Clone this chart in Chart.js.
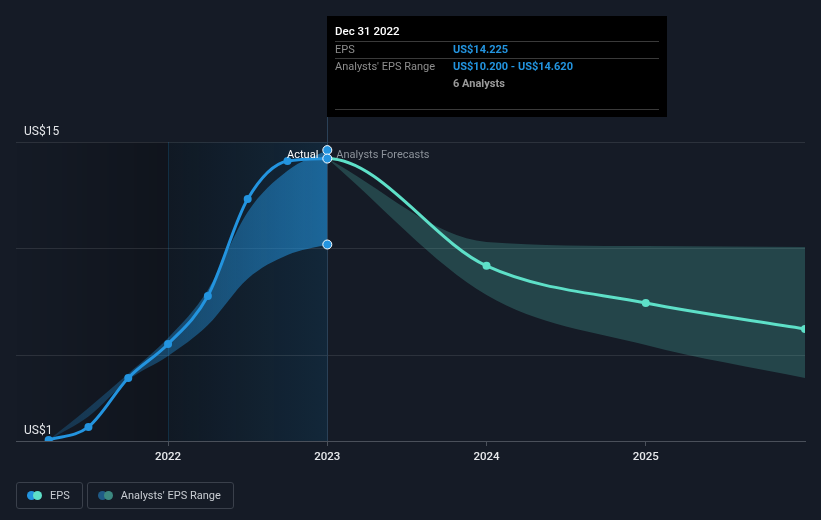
<!DOCTYPE html>
<html>
<head>
<meta charset="utf-8">
<script src="https://cdn.jsdelivr.net/npm/chart.js@4.4.0/dist/chart.umd.min.js"></script>
<style>
  html, body { margin: 0; padding: 0; background: #151b26; }
  body { width: 821px; height: 520px; position: relative; overflow: hidden; font-family: Roboto, sans-serif; }
  #eps { position: absolute; left: 0; top: 0; }
  .legend { position: absolute; left: 16px; top: 482px; display: flex; gap: 4px; }
  .item { box-sizing: border-box; height: 27px; border: 1px solid #3a404b; border-radius: 3px;
          display: flex; align-items: center; padding: 0 12px 0 10px; color: #c9cdd3; font-size: 11px; }
  .dots { position: relative; width: 15px; height: 9px; margin-right: 8px; }
  .dots span { position: absolute; top: 0; width: 9px; height: 9px; border-radius: 50%; }
</style>
</head>
<body>
<canvas id="eps" width="821" height="520"></canvas>
<div class="legend">
  <div class="item"><div class="dots"><span style="left:0;background:#2394df"></span><span style="left:6px;background:#5ee0c8"></span></div>EPS</div>
  <div class="item"><div class="dots"><span style="left:0;background:#1f5a86"></span><span style="left:6px;background:#3c8880"></span></div>Analysts' EPS Range</div>
</div>
<script>
// actual quarters (fractional years, Dec 31 2022 -> 2023)
const actualDates = [2021.25, 2021.5, 2021.75, 2022, 2022.25, 2022.5, 2022.75, 2023];
const epsActual = [1.05, 1.66, 3.95, 5.54, 7.79, 12.33, 14.11, 14.225];
const pastHigh = [1.05, 2.55, 4.15, 5.82, 8.07, 11.72, 13.65, 14.62];
const pastLow = [1.05, 2.15, 3.86, 4.98, 6.43, 8.6, 9.71, 10.2];

// forecast (first entry only carries the curve on from the last quarter)
const forecastDates = [2022.75, 2023, 2024, 2025, 2026];
const epsForecast = [14.11, 14.225, 9.2, 7.46, 6.25];
const rangeDates = [2023, 2024, 2025, 2026];
const forecastHigh = [14.225, 10.32, 10.13, 10.08];
const forecastLow = [14.225, 7.84, 5.5, 3.95];

const xTicks = [2022, 2023, 2024, 2025];
const yGrid = [5, 10, 15];
const yLabels = [15, 1];
const analystCount = 6;
const tipTitle = 'Dec 31 2022';

const blue = '#2394df';
const teal = '#5ee0c8';
const font = 'Roboto, sans-serif';

const pts = (xs, ys) => xs.map((x, i) => ({ x: x, y: ys[i] }));
const lastIdx = actualDates.length - 1;

function bandFill(ctx) {
  const area = ctx.chart.chartArea;
  if (!area) return 'rgba(35,148,223,0.4)';
  const xs = ctx.chart.scales.x;
  const g = ctx.chart.ctx.createLinearGradient(xs.getPixelForValue(actualDates[0]), 0, xs.getPixelForValue(actualDates[lastIdx]), 0);
  g.addColorStop(0, 'rgba(35,148,223,0.22)');
  g.addColorStop(1, 'rgba(35,148,223,0.58)');
  return g;
}

const backdrop = {
  id: 'backdrop',
  beforeDraw(chart) {
    const { ctx, chartArea: a, scales: { x } } = chart;
    const x22 = x.getPixelForValue(xTicks[0]);
    const xNow = x.getPixelForValue(actualDates[lastIdx]);
    ctx.save();
    let g = ctx.createLinearGradient(a.left, 0, x22, 0);
    g.addColorStop(0, 'rgba(0,0,0,0)');
    g.addColorStop(1, 'rgba(0,0,0,0.24)');
    ctx.fillStyle = g;
    ctx.fillRect(a.left, a.top, x22 - a.left, a.bottom - a.top);
    ctx.fillStyle = 'rgba(0,0,0,0.25)';
    ctx.fillRect(x22, a.top, xNow - x22, a.bottom - a.top);
    g = ctx.createLinearGradient(x22, 0, xNow, 0);
    g.addColorStop(0, 'rgba(35,148,223,0.04)');
    g.addColorStop(1, 'rgba(35,148,223,0.15)');
    ctx.fillStyle = g;
    ctx.fillRect(x22, a.top, xNow - x22, a.bottom - a.top);
    ctx.restore();
  },
  beforeDatasetsDraw(chart) {
    const { ctx, chartArea: a, scales: { x } } = chart;
    const x22 = Math.round(x.getPixelForValue(xTicks[0])) + 0.5;
    const xNow = Math.round(x.getPixelForValue(actualDates[lastIdx])) + 0.5;
    ctx.save();
    ctx.lineWidth = 1;
    ctx.strokeStyle = 'rgba(35,148,223,0.18)';
    ctx.beginPath(); ctx.moveTo(x22, a.top); ctx.lineTo(x22, a.bottom); ctx.stroke();
    ctx.strokeStyle = '#2b4157';
    ctx.beginPath(); ctx.moveTo(xNow, 117); ctx.lineTo(xNow, a.bottom); ctx.stroke();
    ctx.restore();
  },
  afterDatasetsDraw(chart) {
    const { ctx, chartArea: a, scales: { x, y } } = chart;
    const xNow = x.getPixelForValue(actualDates[lastIdx]);
    ctx.save();
    ctx.font = '11px ' + font;
    ctx.textBaseline = 'middle';
    ctx.textAlign = 'right';
    ctx.fillStyle = '#ffffff';
    ctx.fillText('Actual', xNow - 9, 155);
    ctx.textAlign = 'left';
    ctx.fillStyle = '#8c929a';
    ctx.fillText('Analysts Forecasts', xNow + 9, 155);
    ctx.font = '12px ' + font;
    ctx.fillStyle = '#e4e6e9';
    ctx.textBaseline = 'alphabetic';
    yLabels.forEach(v => ctx.fillText('US$' + v, a.left + 8, y.getPixelForValue(v) - 7));
    ctx.restore();
  },
  afterDraw(chart) {
    const { ctx, scales: { x } } = chart;
    const left = Math.round(x.getPixelForValue(actualDates[lastIdx]));
    const top = 16, w = 340, h = 101;
    ctx.save();
    ctx.fillStyle = '#000';
    ctx.fillRect(left, top, w, h);
    ctx.strokeStyle = '#3a3a3a';
    ctx.lineWidth = 1;
    [41.5, 58.5, 109.5].forEach(ly => {
      ctx.beginPath(); ctx.moveTo(left + 8, ly); ctx.lineTo(left + w - 8, ly); ctx.stroke();
    });
    ctx.textBaseline = 'middle';
    ctx.textAlign = 'left';
    ctx.font = '500 11.5px ' + font;
    ctx.fillStyle = '#ffffff';
    ctx.fillText(tipTitle, left + 8, 32);
    ctx.font = '11px ' + font;
    ctx.fillStyle = '#8e8e8e';
    ctx.fillText('EPS', left + 8, 50);
    ctx.fillText("Analysts' EPS Range", left + 8, 67);
    const vx = left + 126;
    ctx.font = 'bold 11px ' + font;
    ctx.fillStyle = blue;
    ctx.fillText('US$' + epsActual[lastIdx].toFixed(3), vx, 50);
    ctx.fillText('US$' + pastLow[lastIdx].toFixed(3) + ' - US$' + pastHigh[lastIdx].toFixed(3), vx, 67);
    ctx.fillStyle = '#9a9a9a';
    ctx.fillText(analystCount + ' Analysts', vx, 84);
    ctx.restore();
  }
};

const hoverRadius = (n, r) => (c) => c.dataIndex === n ? r : 0;

new Chart(document.getElementById('eps'), {
  type: 'line',
  data: {
    datasets: [
      {
        label: 'EPS',
        data: pts(actualDates, epsActual),
        borderColor: blue,
        borderWidth: 3,
        cubicInterpolationMode: 'monotone',
        pointRadius: c => c.dataIndex === lastIdx ? 4.5 : 4,
        pointBackgroundColor: blue,
        pointBorderColor: c => c.dataIndex === lastIdx ? '#fff' : blue,
        pointBorderWidth: c => c.dataIndex === lastIdx ? 1 : 0,
        fill: false,
        order: 1
      },
      {
        label: 'EPS forecast',
        data: pts(forecastDates, epsForecast),
        borderColor: teal,
        borderWidth: 3,
        cubicInterpolationMode: 'monotone',
        segment: { borderColor: c => c.p0DataIndex === 0 ? 'rgba(0,0,0,0)' : teal },
        pointRadius: c => c.dataIndex < 2 ? 0 : 4,
        pointBackgroundColor: teal,
        pointBorderWidth: 0,
        fill: false,
        order: 2
      },
      {
        label: 'Range high',
        data: pts(actualDates, pastHigh),
        borderWidth: 0,
        borderColor: 'rgba(0,0,0,0)',
        backgroundColor: bandFill,
        cubicInterpolationMode: 'monotone',
        pointRadius: hoverRadius(lastIdx, 4.5),
        pointBackgroundColor: blue,
        pointBorderColor: '#fff',
        pointBorderWidth: 1,
        fill: '+1',
        order: 4
      },
      {
        label: 'Range low',
        data: pts(actualDates, pastLow),
        borderWidth: 0,
        borderColor: 'rgba(0,0,0,0)',
        cubicInterpolationMode: 'monotone',
        pointRadius: hoverRadius(lastIdx, 4.5),
        pointBackgroundColor: blue,
        pointBorderColor: '#fff',
        pointBorderWidth: 1,
        fill: false,
        order: 3
      },
      {
        label: 'Forecast high',
        data: pts(rangeDates, forecastHigh),
        borderWidth: 0,
        borderColor: 'rgba(0,0,0,0)',
        backgroundColor: 'rgba(82,190,178,0.26)',
        cubicInterpolationMode: 'monotone',
        pointRadius: 0,
        fill: '+1',
        order: 6
      },
      {
        label: 'Forecast low',
        data: pts(rangeDates, forecastLow),
        borderWidth: 0,
        borderColor: 'rgba(0,0,0,0)',
        cubicInterpolationMode: 'monotone',
        pointRadius: 0,
        fill: false,
        order: 5
      }
    ]
  },
  options: {
    responsive: false,
    animation: false,
    devicePixelRatio: 1,
    layout: { padding: { top: 142, left: 16, right: 16, bottom: 0 } },
    plugins: { legend: { display: false }, tooltip: { enabled: false } },
    events: [],
    scales: {
      x: {
        type: 'linear',
        min: 2021.045,
        max: 2026,
        afterBuildTicks: s => { s.ticks = xTicks.map(v => ({ value: v })); },
        afterFit: s => { s.height = 79; },
        ticks: {
          color: '#e6e8eb',
          font: { family: font, size: 11.5, weight: '500' },
          padding: 4,
          maxRotation: 0,
          autoSkip: false,
          callback: v => String(v)
        },
        grid: { drawOnChartArea: false, tickLength: 5, color: '#4a505a' },
        border: { color: '#4a505a' }
      },
      y: {
        min: 1,
        max: 15,
        afterBuildTicks: s => { s.ticks = yGrid.map(v => ({ value: v })); },
        afterFit: s => { s.width = 0; },
        ticks: { display: false },
        grid: { color: 'rgba(255,255,255,0.1)', drawTicks: false },
        border: { display: false }
      }
    }
  },
  plugins: [backdrop]
});
</script>
</body>
</html>
